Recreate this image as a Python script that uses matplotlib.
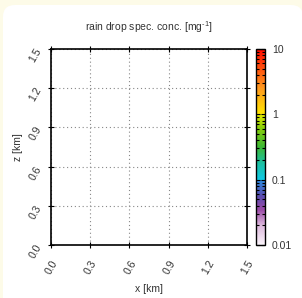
import numpy as np
import matplotlib
matplotlib.use('Agg')
import matplotlib.pyplot as plt
from matplotlib.colors import LinearSegmentedColormap, LogNorm
from matplotlib.patches import FancyBboxPatch
import matplotlib.cm as cm

plt.rcParams['font.family'] = ['Liberation Sans', 'DejaVu Sans']
plt.rcParams['mathtext.fontset'] = 'custom'
plt.rcParams['mathtext.rm'] = 'Liberation Sans'

# axis ticks (km) and colour scale
x_ticks = [0.0, 0.3, 0.6, 0.9, 1.2, 1.5]
z_ticks = [0.0, 0.3, 0.6, 0.9, 1.2, 1.5]
x_labels = ['0.0', '0.3', '0.6', '0.9', '1.2', '1.5']
z_labels = ['0.0', '0.3', '0.6', '0.9', '1.2', '1.5']
cb_ticks = [0.01, 0.1, 1, 10]
cb_labels = ['0.01', '0.1', '1', '10']
title = r'rain drop spec. conc. [mg$^{\text{-1}}$]'

# rain field is empty at this time step (nothing above 0.01)
conc = np.full((2, 2), np.nan)

cmap = LinearSegmentedColormap.from_list('rain', [
    (0.0, '#faf4fa'),
    (0.10, '#dcb8dc'),
    (0.18, '#9a4aa6'),
    (0.25, '#5a4cb0'),
    (0.333, '#2b8ce0'),
    (0.334, '#10c8e4'),
    (0.42, '#1cc0a0'),
    (0.50, '#3cb834'),
    (0.60, '#8cd008'),
    (0.665, '#e2ea00'),
    (0.667, '#ffe600'),
    (0.80, '#ff9a1e'),
    (1.0, '#ff0a00'),
], N=512)

fig = plt.figure(figsize=(3.02, 2.98), dpi=100, facecolor='#fdfbe8')
panel = FancyBboxPatch((3/302, -0.2), 303/302 - 3/302, 1.2 - 5/298,
                       boxstyle='round,pad=0,rounding_size=0.04',
                       transform=fig.transFigure, facecolor='white', edgecolor='none', zorder=-1)
fig.patches.append(panel)

ax = fig.add_axes([51/302, 53/298, 196/302, 196/298])
cax = fig.add_axes([256/302, 53/298, 9/302, 196/298])

ax.imshow(conc, extent=[0, 1.5, 0, 1.5], cmap=cmap, norm=LogNorm(0.01, 10), origin='lower')
ax.set_xlim(0, 1.5)
ax.set_ylim(0, 1.5)
ax.set_aspect('auto')
ax.set_xticks(x_ticks)
ax.set_xticklabels(x_labels, rotation=60, ha='right', va='top', rotation_mode='anchor')
ax.set_yticks(z_ticks)
ax.set_yticklabels(z_labels, rotation=60, ha='right', va='center', rotation_mode='anchor')
ax.tick_params(direction='inout', length=5, width=0.8, top=True, right=True,
               labelsize=7.5, colors='black', labelcolor='#333333')
ax.tick_params(axis='x', pad=7)
ax.tick_params(axis='y', pad=6)
ax.grid(True, linestyle=(0, (1, 2.5)), color='#888888', linewidth=0.8)
for s in ax.spines.values():
    s.set_linewidth(1.2)
ax.set_xlabel('x [km]', fontsize=7.5, color='#333333', labelpad=6)
ax.set_ylabel('z [km]', fontsize=7.5, color='#333333', labelpad=3)
ax.set_title(title, fontsize=7.5, color='#333333', pad=13)

sm = cm.ScalarMappable(norm=LogNorm(0.01, 10), cmap=cmap)
cb = fig.colorbar(sm, cax=cax)
cb.set_ticks(cb_ticks)
cb.set_ticklabels(cb_labels)
cb.outline.set_linewidth(1.0)
cax.tick_params(which='major', direction='in', length=3, width=0.8, left=True, right=True,
                labelsize=7.5, labelcolor='#333333', pad=5)
cax.tick_params(which='minor', direction='in', length=2.5, width=0.8, left=True, right=True)

fig.savefig('out.png', dpi=100, facecolor=fig.get_facecolor())
